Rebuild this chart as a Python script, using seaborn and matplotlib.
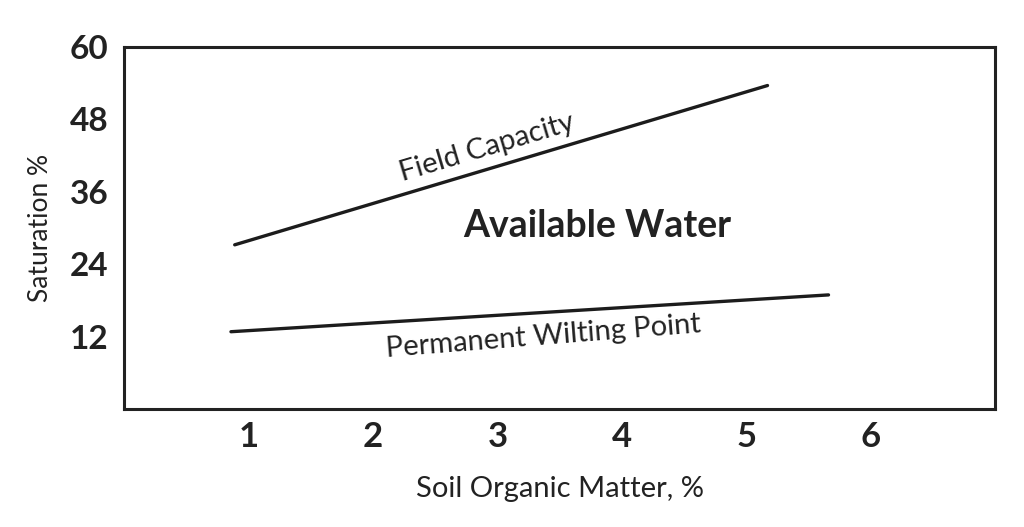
import matplotlib
matplotlib.use("Agg")
import matplotlib.pyplot as plt
import seaborn as sns
import pandas as pd

# datos
fc_x = [0.89, 5.17]
fc_y = [27.2, 53.6]
pwp_x = [0.86, 5.66]
pwp_y = [12.8, 18.9]
x_ticks = [1, 2, 3, 4, 5, 6]
y_ticks = [12, 24, 36, 48, 60]

sns.set_style("white")
plt.rcParams['font.family'] = ['Lato', 'DejaVu Sans']

df_fc = pd.DataFrame({"om": fc_x, "sat": fc_y})
df_pwp = pd.DataFrame({"om": pwp_x, "sat": pwp_y})

fig = plt.figure(figsize=(10.24, 5.27), dpi=100)
ax = fig.add_axes([0.121, 0.224, 0.851, 0.687])

line_color = "#1c1c1c"
sns.lineplot(data=df_fc, x="om", y="sat", ax=ax, color=line_color, linewidth=2.4)
sns.lineplot(data=df_pwp, x="om", y="sat", ax=ax, color=line_color, linewidth=2.4)

ax.set_xlim(0, 7)
ax.set_ylim(0, 60)
ax.set_xticks(x_ticks)
ax.set_yticks(y_ticks)
ax.set_xticklabels([str(v) for v in x_ticks], fontsize=25, fontweight="bold", color="#222222")
ax.set_yticklabels([str(v) for v in y_ticks], fontsize=24, fontweight="bold", color="#222222")
ax.tick_params(axis="both", direction="in", length=7, width=1.1, color="#222222")
ax.tick_params(axis="y", pad=11)
ax.tick_params(axis="x", pad=9)

for s in ax.spines.values():
    s.set_linewidth(2.2)
    s.set_color("#222222")

ax.set_xlabel("Soil Organic Matter, %", fontsize=21, color="#222222", labelpad=16)
ax.set_ylabel("Saturation %", fontsize=19, color="#222222", labelpad=12)

ax.text(2.92, 43.3, "Field Capacity", fontsize=21, rotation=16.6,
        ha="center", va="center", color="#222222", rotation_mode="anchor")
ax.text(3.8, 30.3, "Available Water", fontsize=27, fontweight="bold",
        ha="center", va="center", color="#222222")
ax.text(3.37, 11.9, "Permanent Wilting Point", fontsize=21, rotation=4.5,
        ha="center", va="center", color="#222222", rotation_mode="anchor")

plt.savefig("out.png", dpi=100)
